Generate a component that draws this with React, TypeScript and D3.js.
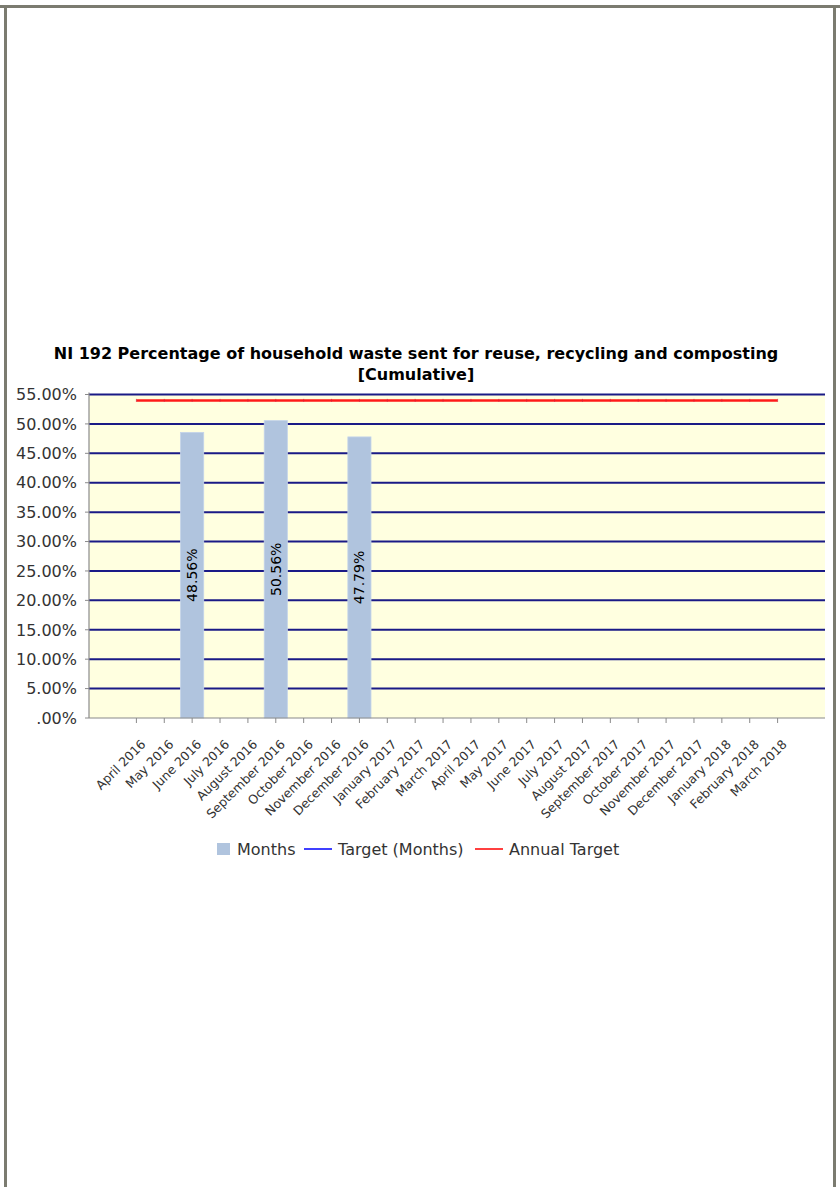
import React from "react";
import * as d3 from "d3";

const months = [
  "April 2016", "May 2016", "June 2016", "July 2016", "August 2016", "September 2016",
  "October 2016", "November 2016", "December 2016", "January 2017", "February 2017", "March 2017",
  "April 2017", "May 2017", "June 2017", "July 2017", "August 2017", "September 2017",
  "October 2017", "November 2017", "December 2017", "January 2018", "February 2018", "March 2018",
];
const monthValues: (number | null)[] = [
  null, null, 48.56, null, null, 50.56, null, null, 47.79, null, null, null,
  null, null, null, null, null, null, null, null, null, null, null, null,
];
const annualTarget: number[] = months.map(() => 54);
const yTicks = [0, 5, 10, 15, 20, 25, 30, 35, 40, 45, 50, 55];
const titleLines = [
  "NI 192 Percentage of household waste sent for reuse, recycling and composting",
  "[Cumulative]",
];
const legendItems = [
  { label: "Months", kind: "rect", color: "#B0C4DE" },
  { label: "Target (Months)", kind: "line", color: "#0000ff" },
  { label: "Annual Target", kind: "line", color: "#ff0000" },
];

const W = 840;
const H = 1187;
const plot = { left: 89, right: 825, top: 394.5, bottom: 718 };
const FONT = "'DejaVu Sans', Verdana, sans-serif";

export default function App() {
  const x = d3.scalePoint<string>().domain(months).range([plot.left, plot.right]).padding(1.7);
  const y = d3.scaleLinear().domain([0, 55]).range([plot.bottom, plot.top]);
  const barW = x.step() * 0.83;
  const fmt = (v: number) => (v === 0 ? ".00%" : d3.format(".2f")(v) + "%");
  const line = d3
    .line<number>()
    .x((_, i) => x(months[i]) as number)
    .y((d) => y(d));

  const legendX = [217, 304, 475];
  const legendTextX = [237, 338, 509];
  const legendY = 849;

  return (
    <div style={{ position: "absolute", left: 0, top: 0 }}>
      <svg width={W} height={H} style={{ display: "block", background: "#fff" }}>
        {/* frame */}
        <rect x={0} y={5} width={W} height={3} fill="#7b7b70" />
        <rect x={4} y={5} width={3} height={H - 5} fill="#7b7b70" />
        <rect x={833} y={5} width={3} height={H - 5} fill="#7b7b70" />

        {/* title */}
        {titleLines.map((t, i) => (
          <text
            key={i}
            x={416}
            y={359 + i * 21}
            textAnchor="middle"
            fontFamily={FONT}
            fontWeight="bold"
            fontSize={16}
            fill="#000"
          >
            {t}
          </text>
        ))}

        {/* plot background */}
        <rect
          x={plot.left}
          y={plot.top}
          width={plot.right - plot.left}
          height={plot.bottom - plot.top}
          fill="#FFFFE0"
        />

        {/* gridlines */}
        {yTicks
          .filter((t) => t > 0)
          .map((t) => (
            <line
              key={t}
              x1={plot.left}
              x2={plot.right}
              y1={y(t)}
              y2={y(t)}
              stroke="#1a1a86"
              strokeWidth={2}
            />
          ))}

        {/* bars */}
        {monthValues.map((v, i) =>
          v == null ? null : (
            <rect
              key={i}
              x={(x(months[i]) as number) - barW / 2}
              y={y(v)}
              width={barW}
              height={plot.bottom - y(v)}
              fill="#B0C4DE"
              stroke="#c4d4ea"
              strokeWidth={0.8}
            />
          )
        )}

        {/* bar labels */}
        {monthValues.map((v, i) =>
          v == null ? null : (
            <text
              key={i}
              transform={`translate(${x(months[i])},${y(v / 2)}) rotate(-90)`}
              textAnchor="middle"
              dy="0.35em"
              fontFamily={FONT}
              fontSize={14}
              fill="#000"
            >
              {d3.format(".2f")(v) + "%"}
            </text>
          )
        )}

        {/* annual target line */}
        <path d={line(annualTarget) || ""} fill="none" stroke="#ff1a1a" strokeWidth={2.5} />
        {annualTarget.map((v, i) => (
          <line
            key={i}
            x1={x(months[i]) as number}
            x2={x(months[i]) as number}
            y1={y(v) - 1.5}
            y2={y(v) + 1.5}
            stroke="#d02040"
            strokeWidth={1}
            opacity={0.6}
          />
        ))}

        {/* axes */}
        <line x1={plot.left} x2={plot.left} y1={plot.top - 2} y2={plot.bottom} stroke="#8a8a8a" strokeWidth={1.2} />
        <line x1={plot.left} x2={plot.right} y1={plot.bottom} y2={plot.bottom} stroke="#8a8a8a" strokeWidth={1.2} />
        {yTicks.map((t) => (
          <g key={t}>
            <line x1={plot.left - 4} x2={plot.left} y1={y(t)} y2={y(t)} stroke="#8a8a8a" />
            <text
              x={77}
              y={y(t)}
              dy="0.36em"
              textAnchor="end"
              fontFamily={FONT}
              fontSize={16}
              fill="#333"
            >
              {fmt(t)}
            </text>
          </g>
        ))}
        {months.map((m) => (
          <g key={m}>
            <line
              x1={x(m) as number}
              x2={x(m) as number}
              y1={plot.bottom}
              y2={plot.bottom + 5}
              stroke="#8a8a8a"
            />
            <text
              transform={`translate(${(x(m) as number) + 7},${plot.bottom + 24}) rotate(-45)`}
              textAnchor="end"
              dy="0.35em"
              fontFamily={FONT}
              fontSize={12.5}
              fill="#333"
            >
              {m}
            </text>
          </g>
        ))}

        {/* legend */}
        {legendItems.map((it, i) => (
          <g key={it.label}>
            {it.kind === "rect" ? (
              <rect x={legendX[i]} y={legendY - 6} width={13} height={12} fill={it.color} />
            ) : (
              <line
                x1={legendX[i]}
                x2={legendX[i] + 28}
                y1={legendY}
                y2={legendY}
                stroke={it.color}
                strokeWidth={1.5}
              />
            )}
            <text
              x={legendTextX[i]}
              y={legendY}
              dy="0.36em"
              fontFamily={FONT}
              fontSize={16}
              fill="#333"
            >
              {it.label}
            </text>
          </g>
        ))}
      </svg>
    </div>
  );
}
